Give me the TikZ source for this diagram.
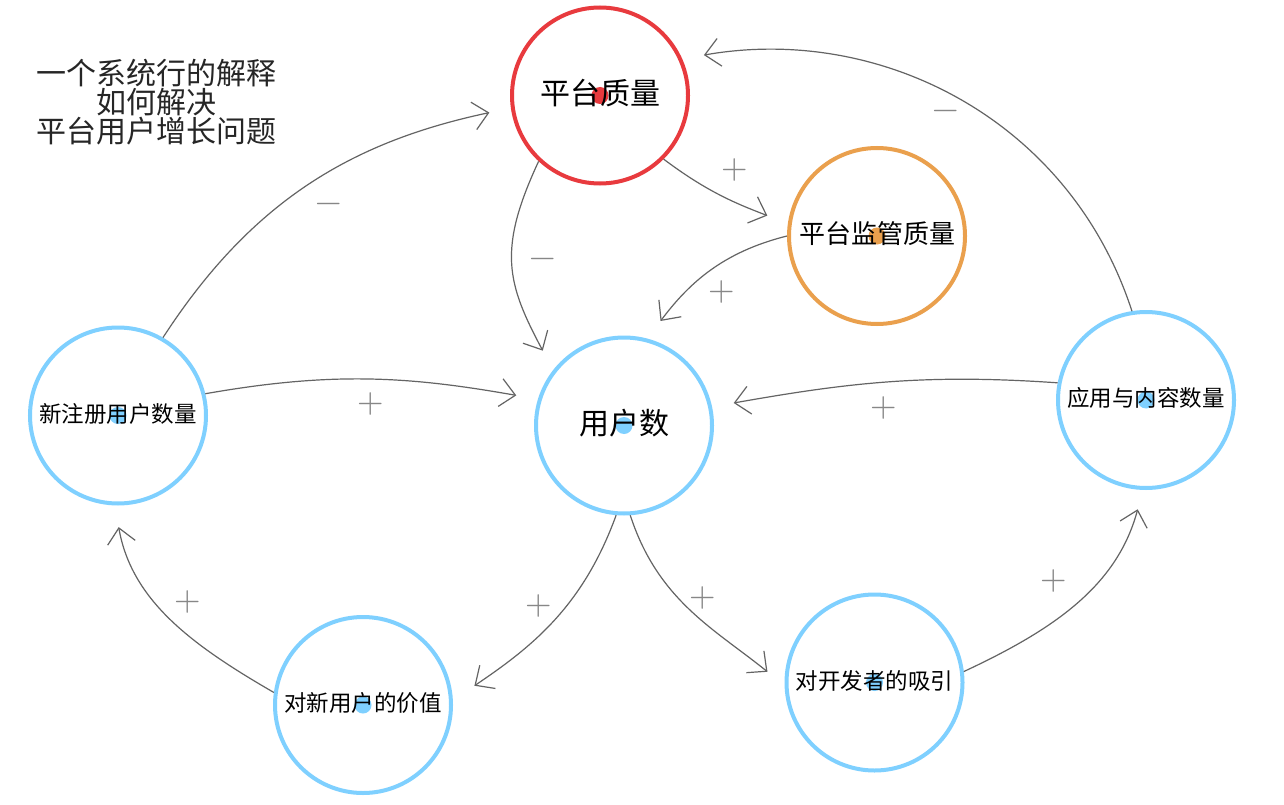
\documentclass[tikz,border=0pt]{standalone}
\usepackage{fontspec}
\setmainfont{Noto Sans CJK SC}
\newfontfamily\signfont{Latin Modern Math}
\usetikzlibrary{arrows.meta}
\definecolor{cred}{RGB}{232,58,62}
\definecolor{corange}{RGB}{234,160,77}
\definecolor{cblue}{RGB}{127,208,255}
\definecolor{agray}{RGB}{100,100,100}
\definecolor{sgray}{RGB}{135,135,135}
\begin{document}
\begin{tikzpicture}[x=1pt,y=1pt,
  ring/.style={circle,draw=#1,line width=4pt,minimum size=176pt,inner sep=0pt,fill=white},
  dot/.style={circle,fill=#1,minimum size=17pt,inner sep=0pt},
  lbl/.style={inner sep=0pt,text=black},
  big/.style={font=\fontsize{30}{30}\selectfont},
  mid/.style={font=\fontsize{26}{26}\selectfont},
  sml/.style={font=\fontsize{22.5}{22.5}\selectfont},
  arr/.style={draw=agray,line width=1.2pt,-{Straight Barb[length=15pt,width=28pt]}},
  sgn/.style={text=sgray,font=\signfont\fontsize{34}{34}\selectfont,inner sep=0pt}]
\useasboundingbox[fill=white] (0,0) rectangle (1284,-805);

% circles
\node[ring=cred]    (P) at (600,-95.5)  {};
\node[ring=corange] (S) at (877,-236)   {};
\node[ring=cblue]   (U) at (624,-425.5) {};
\node[ring=cblue]   (N) at (118,-415.5) {};
\node[ring=cblue]   (A) at (1146,-400)  {};
\node[ring=cblue]   (D) at (874.5,-682.5) {};
\node[ring=cblue]   (V) at (363,-705)   {};

% center dots
\node[dot=cred]    (Pd) at (P) {};
\node[dot=corange] (Sd) at (S) {};
\node[dot=cblue]   (Ud) at (U) {};
\node[dot=cblue]   (Nd) at (N) {};
\node[dot=cblue]   (Ad) at (A) {};
\node[dot=cblue]   (Dd) at (D) {};
\node[dot=cblue]   (Vd) at (V) {};

% labels
\node[lbl,big] (Pt) at (600,-93) {平台质量};
\node[lbl,mid] (St) at (877,-234) {平台监管质量};
\node[lbl,big] (Ut) at (624,-423) {用户数};
\node[lbl,sml] (Nt) at (118,-414) {新注册用户数量};
\node[lbl,sml] (At) at (1146,-398) {应用与内容数量};
\node[lbl,sml] (Dt) at (874.5,-681) {对开发者的吸引};
\node[lbl,sml] (Vt) at (363,-703) {对新用户的价值};

% title
\node[align=center,text=black!85,font=\fontsize{30}{29}\selectfont,inner sep=0pt] (title) at (156,-102)
  {一个系统行的解释\\如何解决\\平台用户增长问题};

% connectors
\draw[arr,shorten >=22pt] (P.-45) to[out=-37,in=159] (S.172);
\draw[arr,shorten >=22pt] (S.180) to[out=194,in=53] (U.75);
\draw[arr,shorten >=22pt] (P.227) to[out=245,in=118,looseness=1.2] (U.142);
\draw[arr,shorten >=22pt] (N.60) to[out=57,in=192] (P.188);
\draw[arr,shorten >=22pt] (N.14) to[out=10,in=170] (U.163);
\draw[arr,shorten >=22pt] (A.99) to[out=108,in=10] (P.24);
\draw[arr,shorten >=22pt] (A.169) to[out=176,in=10] (U.12);
\draw[arr,shorten >=26pt] (U.-95) to[out=250,in=34] (V.3);
\draw[arr,shorten >=22pt] (U.-86) to[out=-72,in=141] (D.182);
\draw[arr,shorten >=20pt] (D.7) to[out=25,in=255] (A.-92);
\draw[arr,shorten >=22pt] (V.172) to[out=150,in=-80] (N.-92);

% signs
\node[sgn] (s1)  at (735,-170) {+};
\node[sgn] (s2)  at (722,-292) {+};
\node[sgn] (s3)  at (543,-263) {−};
\node[sgn] (s4)  at (329,-208) {−};
\node[sgn] (s5)  at (371,-404) {+};
\node[sgn] (s6)  at (946,-115) {−};
\node[sgn] (s7)  at (884,-408) {+};
\node[sgn] (s8)  at (539,-606) {+};
\node[sgn] (s9)  at (703,-598) {+};
\node[sgn] (s10) at (1054,-581) {+};
\node[sgn] (s11) at (188,-602) {+};
\end{tikzpicture}
\end{document}
